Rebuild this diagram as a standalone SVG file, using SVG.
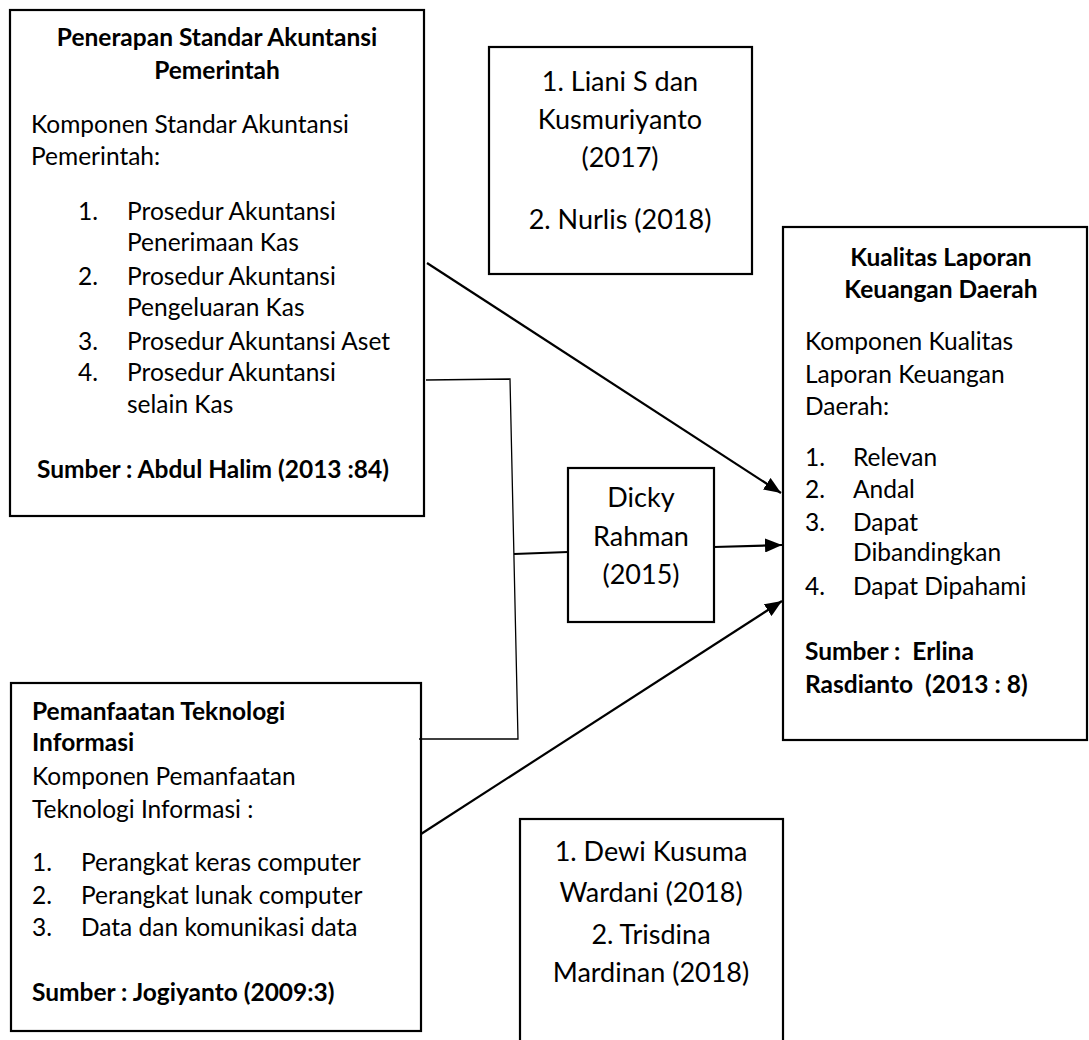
<svg xmlns="http://www.w3.org/2000/svg" width="1089" height="1040" viewBox="0 0 1089 1040">
<style>
  .box { fill: #fff; stroke: #000; stroke-width: 2.2; }
  text { font-family: Lato, "Liberation Sans", sans-serif; fill: #000; }
  .b { font-size: 24.5px; }
  .bb { font-size: 24.5px; font-weight: bold; }
  .l { font-size: 27px; text-anchor: middle; }
  .c { text-anchor: middle; }
  .conn { fill: none; stroke: #000; stroke-width: 2.2; }
  .thin { fill: none; stroke: #000; stroke-width: 1.3; }
</style>
<defs>
  <marker id="arr" markerUnits="userSpaceOnUse" markerWidth="18" markerHeight="14" refX="17" refY="7" orient="auto">
    <path d="M0,0 L17,7 L0,14 Z" fill="#000"/>
  </marker>
</defs>
<rect width="1089" height="1040" fill="#fff"/>

<g id="node-sap">
  <rect class="box" x="10" y="10" width="414" height="506"/>
  <text class="bb c" x="217" y="46">Penerapan Standar Akuntansi</text>
  <text class="bb c" x="217" y="79">Pemerintah</text>
  <text class="b" x="31" y="133">Komponen Standar Akuntansi</text>
  <text class="b" x="31" y="165">Pemerintah:</text>
  <text class="b" x="78" y="220">1.</text><text class="b" x="127" y="220">Prosedur Akuntansi</text>
  <text class="b" x="127" y="251">Penerimaan Kas</text>
  <text class="b" x="78" y="285">2.</text><text class="b" x="127" y="285">Prosedur Akuntansi</text>
  <text class="b" x="127" y="316">Pengeluaran Kas</text>
  <text class="b" x="78" y="350">3.</text><text class="b" x="127" y="350">Prosedur Akuntansi Aset</text>
  <text class="b" x="78" y="381">4.</text><text class="b" x="127" y="381">Prosedur Akuntansi</text>
  <text class="b" x="127" y="413">selain Kas</text>
  <text class="bb" x="37" y="478">Sumber : Abdul Halim (2013 :84)</text>
</g>

<g id="node-liani">
  <rect class="box" x="489" y="47" width="263" height="227"/>
  <text class="l" x="620" y="91">1. Liani S dan</text>
  <text class="l" x="620" y="129">Kusmuriyanto</text>
  <text class="l" x="620" y="167">(2017)</text>
  <text class="l" x="620" y="229">2. Nurlis (2018)</text>
</g>

<g id="node-kualitas">
  <rect class="box" x="783" y="227" width="304" height="513"/>
  <text class="bb c" x="941" y="266">Kualitas Laporan</text>
  <text class="bb c" x="941" y="298">Keuangan Daerah</text>
  <text class="b" x="805" y="350">Komponen Kualitas</text>
  <text class="b" x="805" y="383">Laporan Keuangan</text>
  <text class="b" x="805" y="415">Daerah:</text>
  <text class="b" x="805" y="466">1.</text><text class="b" x="853" y="466">Relevan</text>
  <text class="b" x="805" y="498">2.</text><text class="b" x="853" y="498">Andal</text>
  <text class="b" x="805" y="531">3.</text><text class="b" x="853" y="531">Dapat</text>
  <text class="b" x="853" y="561">Dibandingkan</text>
  <text class="b" x="805" y="595">4.</text><text class="b" x="853" y="595">Dapat Dipahami</text>
  <text class="bb" x="805" y="660" xml:space="preserve">Sumber :  Erlina</text>
  <text class="bb" x="805" y="693" xml:space="preserve">Rasdianto  (2013 : 8)</text>
</g>

<g id="node-dicky">
  <rect class="box" x="568" y="468" width="146" height="154"/>
  <text class="l" x="641" y="507">Dicky</text>
  <text class="l" x="641" y="546">Rahman</text>
  <text class="l" x="641" y="584">(2015)</text>
</g>

<g id="node-ti">
  <rect class="box" x="11" y="683" width="410" height="348"/>
  <text class="bb" x="32" y="720">Pemanfaatan Teknologi</text>
  <text class="bb" x="32" y="751">Informasi</text>
  <text class="b" x="32" y="785">Komponen Pemanfaatan</text>
  <text class="b" x="32" y="818">Teknologi Informasi :</text>
  <text class="b" x="32" y="871">1.</text><text class="b" x="81" y="871">Perangkat keras computer</text>
  <text class="b" x="32" y="904">2.</text><text class="b" x="81" y="904">Perangkat lunak computer</text>
  <text class="b" x="32" y="936">3.</text><text class="b" x="81" y="936">Data dan komunikasi data</text>
  <text class="bb" x="32" y="1001">Sumber : Jogiyanto (2009:3)</text>
</g>

<g id="node-dewi">
  <rect class="box" x="520" y="819" width="263" height="230"/>
  <text class="l" x="651" y="861">1. Dewi Kusuma</text>
  <text class="l" x="651" y="902">Wardani (2018)</text>
  <text class="l" x="651" y="944">2. Trisdina</text>
  <text class="l" x="651" y="982">Mardinan (2018)</text>
</g>

<g id="connectors">
  <line class="conn" x1="427" y1="263" x2="781" y2="493" marker-end="url(#arr)"/>
  <polyline class="thin" points="426,380 510,379 518,739 419,739"/>
  <line class="conn" x1="514" y1="554" x2="568" y2="552"/>
  <line class="conn" x1="714" y1="547" x2="782" y2="545" marker-end="url(#arr)"/>
  <line class="conn" x1="421" y1="834" x2="782" y2="601" marker-end="url(#arr)"/>
</g>
</svg>
